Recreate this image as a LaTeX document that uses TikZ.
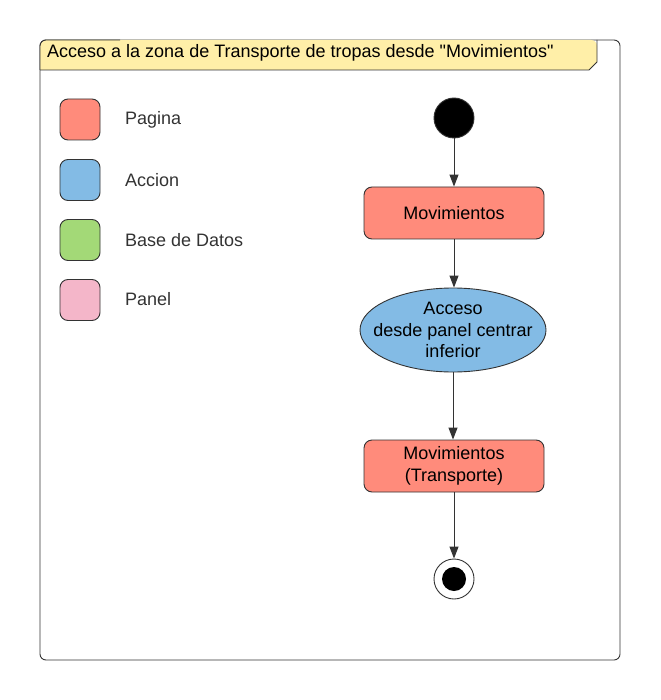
\documentclass[tikz,border=0pt]{standalone}
\usepackage{fontspec}
\setmainfont{Liberation Sans}
\font\titlefnt="Liberation Sans" at 18pt
\usetikzlibrary{arrows.meta,shapes.geometric}
\definecolor{linec}{HTML}{333333}
\definecolor{pagina}{HTML}{FF8B7B}
\definecolor{accion}{HTML}{83BBE5}
\definecolor{bdatos}{HTML}{A3D977}
\definecolor{panelc}{HTML}{F4B6C9}
\definecolor{tabc}{HTML}{FFEFA8}
\tikzset{
  txt/.style={font=\fontsize{18}{21.5}\selectfont},
  legbox/.style={draw=linec, line width=0.9pt, rounded corners=8pt, minimum width=40pt, minimum height=41pt, inner sep=0pt},
  leglabel/.style={txt, text=linec, anchor=west, inner sep=0pt},
  pagebox/.style={draw=linec, line width=0.9pt, fill=pagina, rounded corners=8pt, minimum width=180pt, minimum height=52pt, inner sep=0pt, txt, align=center},
  actell/.style={ellipse, draw=linec, line width=0.9pt, fill=accion, minimum width=186pt, minimum height=84pt, inner sep=0pt},
  flow/.style={draw=linec, line width=1pt, -{Triangle[length=12pt,width=9pt]}},
}
\begin{document}
\begin{tikzpicture}[x=1pt,y=-1pt]
\useasboundingbox (0,0) rectangle (660,700);
% frame
\draw[linec, line width=0.9pt, rounded corners=6pt] (40,40) rectangle (620,660);
% title tab
\path[fill=tabc] (40,70) [rounded corners=6pt] -- (40,40) -- (597,40) [sharp corners] -- (597,62) -- (589,70) -- cycle;
\draw[linec, line width=0.9pt] (597,40) -- (597,62) -- (589,70) -- (40,70);
\draw[linec, line width=0.9pt, rounded corners=6pt] (40,70) -- (40,40) -- (120,40);
\node[font=\titlefnt, anchor=west, inner sep=0pt] (title) at (47,53) {Acceso a la zona de Transporte de tropas desde "Movimientos"};
% legend
\node[legbox, fill=pagina] (lp) at (80,119.5) {};
\node[legbox, fill=accion] (la) at (80,180) {};
\node[legbox, fill=bdatos] (lb) at (80,240) {};
\node[legbox, fill=panelc] (lpn) at (80,300) {};
\node[leglabel] (tp) at (125,120) {Pagina};
\node[leglabel] (ta) at (125,180) {Accion};
\node[leglabel] (tb) at (125,240) {Base de Datos};
\node[leglabel] (tpn) at (125,299) {Panel};
% flow
\node[circle, draw=linec, line width=0.9pt, fill=black, minimum size=40pt, inner sep=0pt] (start) at (454,118) {};
\node[pagebox] (mov) at (454,213) {Movimientos};
\node[actell] (acc) at (453,330) {};
\node[txt, align=center, inner sep=0pt] (acctext) at (acc.center) {Acceso\\desde panel centrar\\inferior};
\node[pagebox] (movt) at (454,466) {Movimientos\\(Transporte)};
\node[circle, draw=linec, line width=0.9pt, fill=white, minimum size=40pt, inner sep=0pt] (fin) at (454,579) {};
\node[circle, fill=black, minimum size=24pt, inner sep=0pt] (fininner) at (fin.center) {};
\draw[flow] (start) -- (mov);
\draw[flow] (mov.south) -- (mov.south |- acc.north);
\draw[flow] (acc.south) -- (acc.south |- movt.north);
\draw[flow] (movt) -- (fin);
\end{tikzpicture}
\end{document}
